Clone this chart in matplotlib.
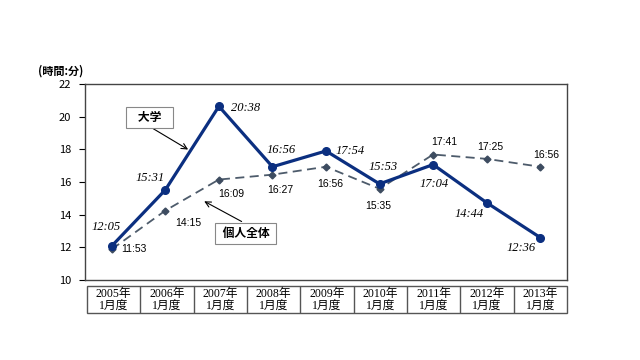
import matplotlib
matplotlib.use("Agg")
import matplotlib.pyplot as plt
from matplotlib.patches import Rectangle

plt.rcParams['font.family'] = ['Noto Sans CJK JP', 'DejaVu Sans']

YEARS = ["2005年", "2006年", "2007年", "2008年", "2009年",
         "2010年", "2011年", "2012年", "2013年"]
MONTH = "1月度"
UNIV_LABELS = ["12:05", "15:31", "20:38", "16:56", "17:54",
               "15:53", "17:04", "14:44", "12:36"]
ALL_LABELS = ["11:53", "14:15", "16:09", "16:27", "16:56",
              "15:35", "17:41", "17:25", "16:56"]


def to_hours(s):
    h, m = s.split(":")
    return int(h) + int(m) / 60


univ = [to_hours(s) for s in UNIV_LABELS]
overall = [to_hours(s) for s in ALL_LABELS]
x = list(range(len(YEARS)))

# label offsets in pixels (dx, dy), screen coords (y up)
UNIV_OFF = [(-6, 19), (-15, 12), (27, -2), (9, 17), (24, 0),
            (4, 17), (1, -19), (-18, -11), (-19, -10)]
ALL_OFF = [(22, 0), (23, -12), (12, -14), (8, -15), (4, -17),
           (-1, -17), (11, 13), (4, 12), (6, 12)]

fig = plt.figure(figsize=(6.4, 3.6), dpi=100)
W, H = 640, 360
ax = fig.add_axes([85 / W, (H - 280) / H, (567 - 85) / W, (280 - 84) / H])

ax.plot(x, overall, ls=(0, (5, 3)), color="#4d5b6b", lw=1.3,
        marker="D", ms=3.5, mfc="#3d4c60", mec="#3d4c60", zorder=2)
ax.plot(x, univ, color="#0b2f80", lw=2.3, marker="o", ms=5.5, zorder=3)

for xi, yi, s, (dx, dy) in zip(x, univ, UNIV_LABELS, UNIV_OFF):
    ax.annotate(s, (xi, yi), xytext=(dx, dy), textcoords="offset pixels",
                ha="center", va="center", fontsize=9, style="italic",
                family=["Liberation Serif"])
for xi, yi, s, (dx, dy) in zip(x, overall, ALL_LABELS, ALL_OFF):
    ax.annotate(s, (xi, yi), xytext=(dx, dy), textcoords="offset pixels",
                ha="center", va="center", fontsize=7.5,
                family=["Liberation Sans"])

ax.set_xlim(-0.5, len(YEARS) - 0.5)
ax.set_ylim(10, 22)
ax.set_yticks(range(10, 23, 2))
ax.set_xticks([])
ax.tick_params(axis="y", labelsize=8, length=4, direction="out", pad=6)
for sp in ax.spines.values():
    sp.set_color("#444444")
    sp.set_linewidth(1.0)

fig.text(61 / W, 1 - 71 / H, "(時間:分)", ha="center", va="center",
         fontsize=8, fontweight="bold")

# callout boxes
box = dict(boxstyle="square,pad=0.35", fc="white", ec="#888888", lw=0.8)
arrow = dict(arrowstyle="->", color="black", lw=0.8)
ax.annotate("", xy=(1.47, 17.9), xytext=(0.73, 19.35), arrowprops=arrow)
ax.text(0.7, 19.95, "   大学   ", ha="center", va="center", fontsize=8.5,
        style="italic", fontweight="bold", bbox=box)
ax.annotate("", xy=(1.68, 14.9), xytext=(2.47, 13.5), arrowprops=arrow)
ax.text(2.5, 12.85, " 個人全体 ", ha="center", va="center", fontsize=8.5,
        fontweight="bold", bbox=box)

# category table under the axis
tax = fig.add_axes([87 / W, (H - 313) / H, (567 - 87) / W, (313 - 286) / H])
tax.set_xlim(-0.5, len(YEARS) - 0.5)
tax.set_ylim(0, 1)
tax.axis("off")
tax.add_patch(Rectangle((-0.5, 0), len(YEARS), 1, fill=False,
                        ec="#555555", lw=1.0, clip_on=False))
for i in range(1, len(YEARS)):
    tax.axvline(i - 0.5, color="#555555", lw=1.0)
for xi, yr in zip(x, YEARS):
    tax.text(xi, 0.72, yr, ha="center", va="center", fontsize=8.5,
             family=["Liberation Serif", "Noto Sans CJK JP"])
    tax.text(xi, 0.25, MONTH, ha="center", va="center", fontsize=8.5,
             family=["Liberation Serif", "Noto Sans CJK JP"])

fig.savefig("out.png", dpi=100)
